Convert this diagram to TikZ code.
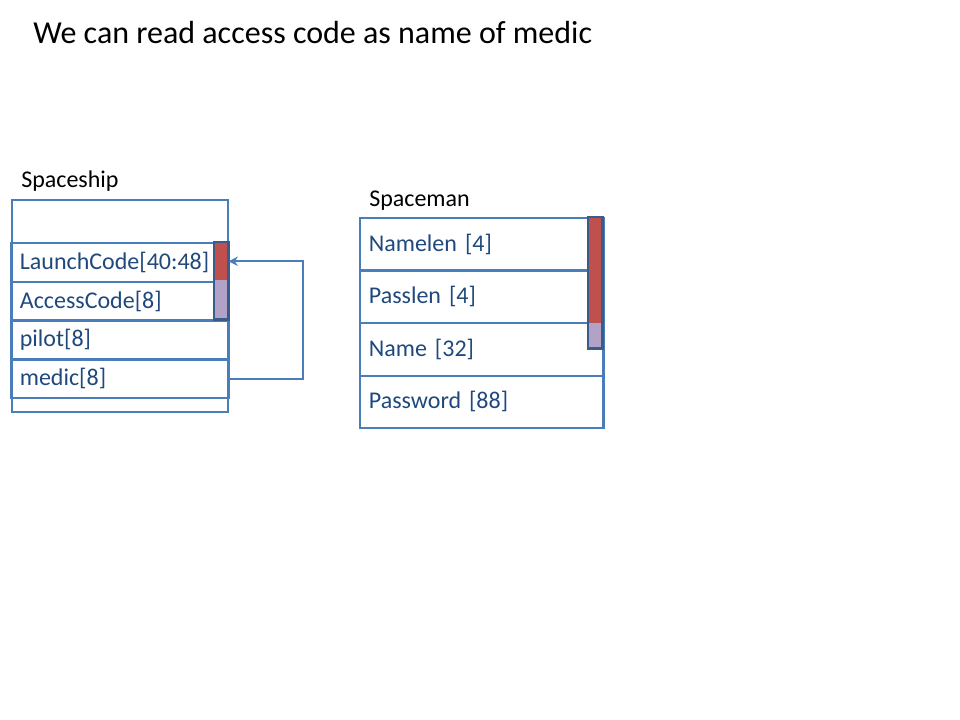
\documentclass[tikz,border=0pt]{standalone}
\usepackage{fontspec}
\setmainfont{Carlito}
\usetikzlibrary{arrows.meta}
\definecolor{lineblue}{HTML}{4A7EBB}
\definecolor{darkblue}{HTML}{385D8A}
\definecolor{textblue}{HTML}{1F497D}
\definecolor{barred}{HTML}{C0504D}
\definecolor{barpurple}{HTML}{B3A2C7}
\tikzset{
  lrow/.style={draw=lineblue, line width=1.8pt, rectangle, anchor=north west,
    minimum width=162.75pt, minimum height=29.06pt, text width=150pt, inner xsep=6.5pt, inner ysep=0pt,
    align=left, text=textblue, font=\fontsize{18}{21}\selectfont},
  rrow/.style={draw=lineblue, line width=1.8pt, rectangle, anchor=north west,
    minimum width=181.5pt, minimum height=39.375pt, text width=169.5pt, inner xsep=6.5pt, inner ysep=0pt,
    align=left, text=textblue, font=\fontsize{18}{21}\selectfont},
  redbar/.style={fill=barred, draw=none, rectangle, anchor=north west, inner sep=0pt, minimum width=10.5pt},
  purplebar/.style={fill=barpurple, draw=none, rectangle, anchor=north west, inner sep=0pt, minimum width=10.5pt},
  lbl/.style={anchor=base west, inner sep=0pt, font=\fontsize{18}{21}\selectfont},
  conn/.style={draw=lineblue, line width=1.8pt, -{Stealth[length=7pt,width=7pt]}}
}
\begin{document}
\begin{tikzpicture}[x=0.75pt,y=-0.75pt]
\useasboundingbox (0,0) rectangle (960,720);
% title
\node[anchor=base west, inner sep=0pt, font=\fontsize{24}{28}\selectfont] (title) at (33,44) {We can read access code as name of medic};
% Spaceship
\node[lbl] (shiplbl) at (21,188) {Spaceship};
\node[draw=lineblue, line width=1.8pt, rectangle, anchor=north west, inner sep=0pt,
  minimum width=162pt, minimum height=159pt] (ship) at (11,199) {};
\node[lrow] (launch) at (10,242) {LaunchCode[40:48]};
\node[lrow] (access) at (10,280.75) {AccessCode[8]};
\node[lrow] (pilot) at (10,319.5) {pilot[8]};
\node[lrow] (medic) at (10,358.25) {medic[8]};
\node[redbar, minimum height=28.5pt] (lcbar) at (214,242) {};
\node[purplebar, minimum height=29.25pt] (acbar) at (214,280) {};
\draw[darkblue, line width=1.8pt] (lcbar.north west) rectangle (acbar.south east);
\draw[conn] (medic.east) -- ++(73,0) |- (lcbar.east);
% Spaceman
\node[lbl] (manlbl) at (369,207) {Spaceman};
\node[rrow] (namelen) at (359,217) {Namelen [4]};
\node[rrow] (passlen) at (359,269.5) {Passlen [4]};
\node[rrow] (name) at (359,322) {Name [32]};
\node[rrow] (password) at (359,374.5) {Password [88]};
\node[redbar, minimum height=79.5pt] (nbar) at (588,217) {};
\node[purplebar, minimum height=18.75pt] (pbar) at (588,323) {};
\draw[darkblue, line width=1.8pt] (nbar.north west) rectangle (pbar.south east);
\end{tikzpicture}
\end{document}
